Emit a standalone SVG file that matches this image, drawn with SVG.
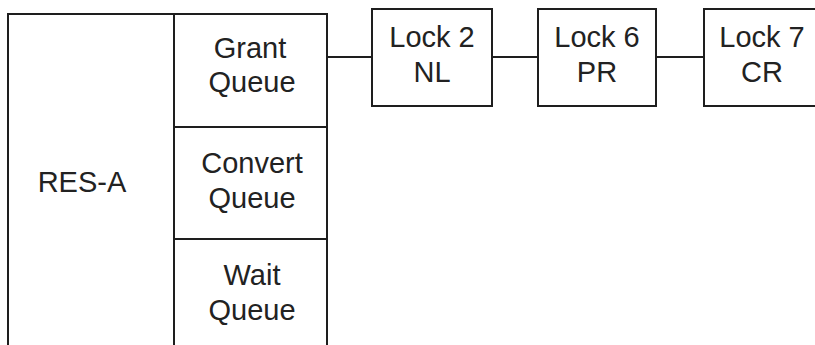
<svg xmlns="http://www.w3.org/2000/svg" width="815" height="345" viewBox="0 0 815 345">
  <style>
    .box { fill: #ffffff; stroke: #1e1e1e; stroke-width: 2; }
    .link { stroke: #1e1e1e; stroke-width: 2; fill: none; }
    .lbl { font-family: "Liberation Sans", Arial, sans-serif; font-size: 29px; fill: #222222; text-anchor: middle; }
  </style>
  <rect x="0" y="0" width="815" height="345" fill="#ffffff"/>

  <!-- resource block -->
  <g id="res-a">
    <rect class="box" x="8" y="14" width="166" height="345"/>
    <text class="lbl" x="82" y="192">RES-A</text>
  </g>
  <g id="grant-queue">
    <rect class="box" x="174" y="14" width="153" height="113"/>
    <text class="lbl" x="250" y="58">Grant</text>
    <text class="lbl" x="252" y="92">Queue</text>
  </g>
  <g id="convert-queue">
    <rect class="box" x="174" y="127" width="153" height="112"/>
    <text class="lbl" x="252" y="173">Convert</text>
    <text class="lbl" x="252" y="208">Queue</text>
  </g>
  <g id="wait-queue">
    <rect class="box" x="174" y="239" width="153" height="120"/>
    <text class="lbl" x="252" y="285">Wait</text>
    <text class="lbl" x="252" y="320">Queue</text>
  </g>

  <!-- locks on the grant queue -->
  <g id="connectors">
    <line class="link" x1="327" y1="57" x2="372" y2="57"/>
    <line class="link" x1="492" y1="57" x2="538" y2="57"/>
    <line class="link" x1="656" y1="57" x2="704" y2="57"/>
  </g>
  <g id="lock-2">
    <rect class="box" x="372" y="9" width="120" height="97"/>
    <text class="lbl" x="432" y="47">Lock 2</text>
    <text class="lbl" x="432" y="82">NL</text>
  </g>
  <g id="lock-6">
    <rect class="box" x="538" y="9" width="118" height="97"/>
    <text class="lbl" x="597" y="47">Lock 6</text>
    <text class="lbl" x="597" y="82">PR</text>
  </g>
  <g id="lock-7">
    <rect class="box" x="704" y="9" width="120" height="97"/>
    <text class="lbl" x="762" y="47">Lock 7</text>
    <text class="lbl" x="762" y="82">CR</text>
  </g>
</svg>
